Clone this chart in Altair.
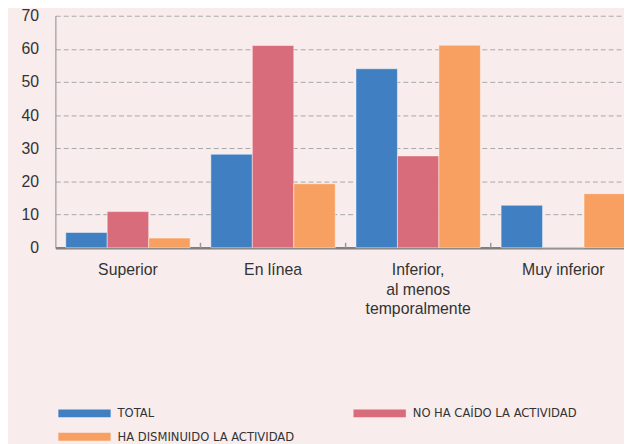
import altair as alt
import pandas as pd

categories = ["Superior", "En línea", "Inferior,|al menos|temporalmente", "Muy inferior"]
series = ["TOTAL", "NO HA CAÍDO LA ACTIVIDAD", "HA DISMINUIDO LA ACTIVIDAD"]
total = [4.6, 28.2, 54.0, 12.8]
no_ha_caido = [10.9, 61.0, 27.7, 0.0]
ha_disminuido = [2.9, 19.3, 61.1, 16.3]
colors = ["#4080c2", "#d96c7a", "#f8a062"]

rows = []
for i, c in enumerate(categories):
    for s, vals in zip(series, [total, no_ha_caido, ha_disminuido]):
        rows.append({"cat": c, "serie": s, "valor": vals[i]})
df = pd.DataFrame(rows)

x_scale = alt.Scale(domain=categories, range=[0, 588], paddingInner=0, paddingOuter=0)

bars = alt.Chart(df).mark_bar(stroke="#ffffff", strokeOpacity=0.45, strokeWidth=1).encode(
    x=alt.X("cat:N", sort=categories, scale=x_scale, title=None,
            axis=alt.Axis(labelExpr="split(datum.label, '|')", labelAngle=0,
                          labelFontSize=16, labelLineHeight=20, labelPadding=14,
                          labelColor="#333333", labelFont="Liberation Sans",
                          domainColor="#7f7f7f", domainWidth=2.5, ticks=False,
                          grid=False, labelBaseline="top")),
    xOffset=alt.XOffset("serie:N", sort=series, scale=alt.Scale(paddingOuter=0.25, paddingInner=0)),
    y=alt.Y("valor:Q", scale=alt.Scale(domain=[0, 70]), title=None,
            axis=alt.Axis(values=[0, 10, 20, 30, 40, 50, 60, 70], labelFontSize=16,
                          labelColor="#333333", labelFont="Liberation Sans", labelPadding=17,
                          ticks=False, domainColor="#8a8a8a", domainWidth=1,
                          grid=True, gridColor="#a8a8a8", gridDash=[5, 3], gridWidth=1)),
    color=alt.Color("serie:N", sort=series, scale=alt.Scale(domain=series, range=colors),
                    legend=alt.Legend(title=None, orient="none", legendX=23, legendY=396,
                                      direction="horizontal", values=series,
                                      columns=2, columnPadding=60, rowPadding=10,
                                      symbolType="M-5,-0.75H5V0.75H-5Z", symbolSize=112.36,
                                      symbolStrokeWidth=0, labelOffset=27,
                                      labelFont="DejaVu Sans Condensed, Liberation Sans",
                                      labelFontSize=13,
                                      labelColor="#333333", labelLimit=400)),
)

ticks_df = pd.DataFrame({"cat": categories[1:]})
ticks = alt.Chart(ticks_df).mark_rule(color="#9a9a9a", strokeWidth=1.5).encode(
    x=alt.X("cat:N", sort=categories, scale=x_scale, bandPosition=0),
    y=alt.value(230), y2=alt.value(235),
)

chart = alt.layer(bars, ticks).properties(
    width=576, height=235,
    autosize=alt.AutoSizeParams(type="none"),
    padding={"left": 48, "top": 5, "right": 0, "bottom": 196},
    background="#f8ecec",
).configure_view(stroke=None)

chart.save("out.html", embed_options={"renderer": "svg", "actions": False})
